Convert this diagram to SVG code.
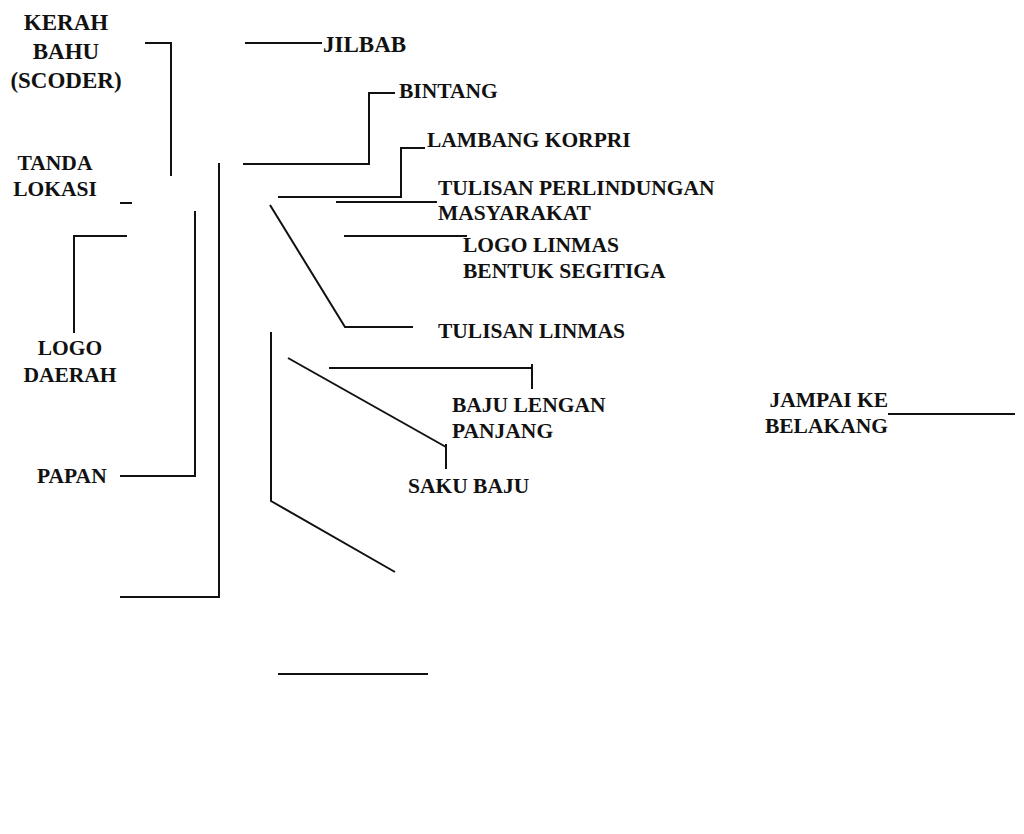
<svg xmlns="http://www.w3.org/2000/svg" width="1024" height="834" viewBox="0 0 1024 834">
<style>
text{font-family:"Liberation Serif","DejaVu Serif",serif;font-weight:bold;font-size:21.5px;fill:#111}
.big{font-size:23px}
.c{text-anchor:middle}
.e{text-anchor:end}
#connectors path{fill:none;stroke:#111;stroke-width:2}
</style>
<rect width="1024" height="834" fill="#fff"/>
<g id="connectors">
<path d="M145 43H171V176"/>
<path d="M245 43H322"/>
<path d="M120 203H132"/>
<path d="M219 163V597H120"/>
<path d="M243 164H369V93H395"/>
<path d="M425 148H401V197H278"/>
<path d="M336 202H437"/>
<path d="M344 236H467"/>
<path d="M270 205L345 327H413"/>
<path d="M195 211V476H120"/>
<path d="M127 236H74V333"/>
<path d="M271 332V501L395 572"/>
<path d="M288 358L446 447"/>
<path d="M446 444V469"/>
<path d="M329 368H532"/>
<path d="M532 364V389"/>
<path d="M888 414H1015"/>
<path d="M278 674H428"/>
</g>
<g id="kerah-bahu"><text class="big c" x="66" y="30">KERAH</text><text class="big c" x="66" y="59">BAHU</text><text class="big c" x="66" y="88">(SCODER)</text></g>
<g id="jilbab"><text class="big" x="323" y="52">JILBAB</text></g>
<g id="bintang"><text x="399" y="98">BINTANG</text></g>
<g id="lambang-korpri"><text x="427" y="147">LAMBANG KORPRI</text></g>
<g id="tanda-lokasi"><text class="c" x="55" y="170">TANDA</text><text class="c" x="55" y="196">LOKASI</text></g>
<g id="tulisan-perlindungan"><text x="438" y="195">TULISAN PERLINDUNGAN</text><text x="438" y="220">MASYARAKAT</text></g>
<g id="logo-linmas"><text x="463" y="252">LOGO LINMAS</text><text x="463" y="278">BENTUK SEGITIGA</text></g>
<g id="tulisan-linmas"><text x="438" y="338">TULISAN LINMAS</text></g>
<g id="logo-daerah"><text class="c" x="70" y="355">LOGO</text><text class="c" x="70" y="382">DAERAH</text></g>
<g id="baju-lengan-panjang"><text x="452" y="412">BAJU LENGAN</text><text x="452" y="438">PANJANG</text></g>
<g id="jampai-ke-belakang"><text class="e" x="888" y="407">JAMPAI KE</text><text class="e" x="888" y="433">BELAKANG</text></g>
<g id="papan"><text x="37" y="483">PAPAN</text></g>
<g id="saku-baju"><text x="408" y="493">SAKU BAJU</text></g>
</svg>
